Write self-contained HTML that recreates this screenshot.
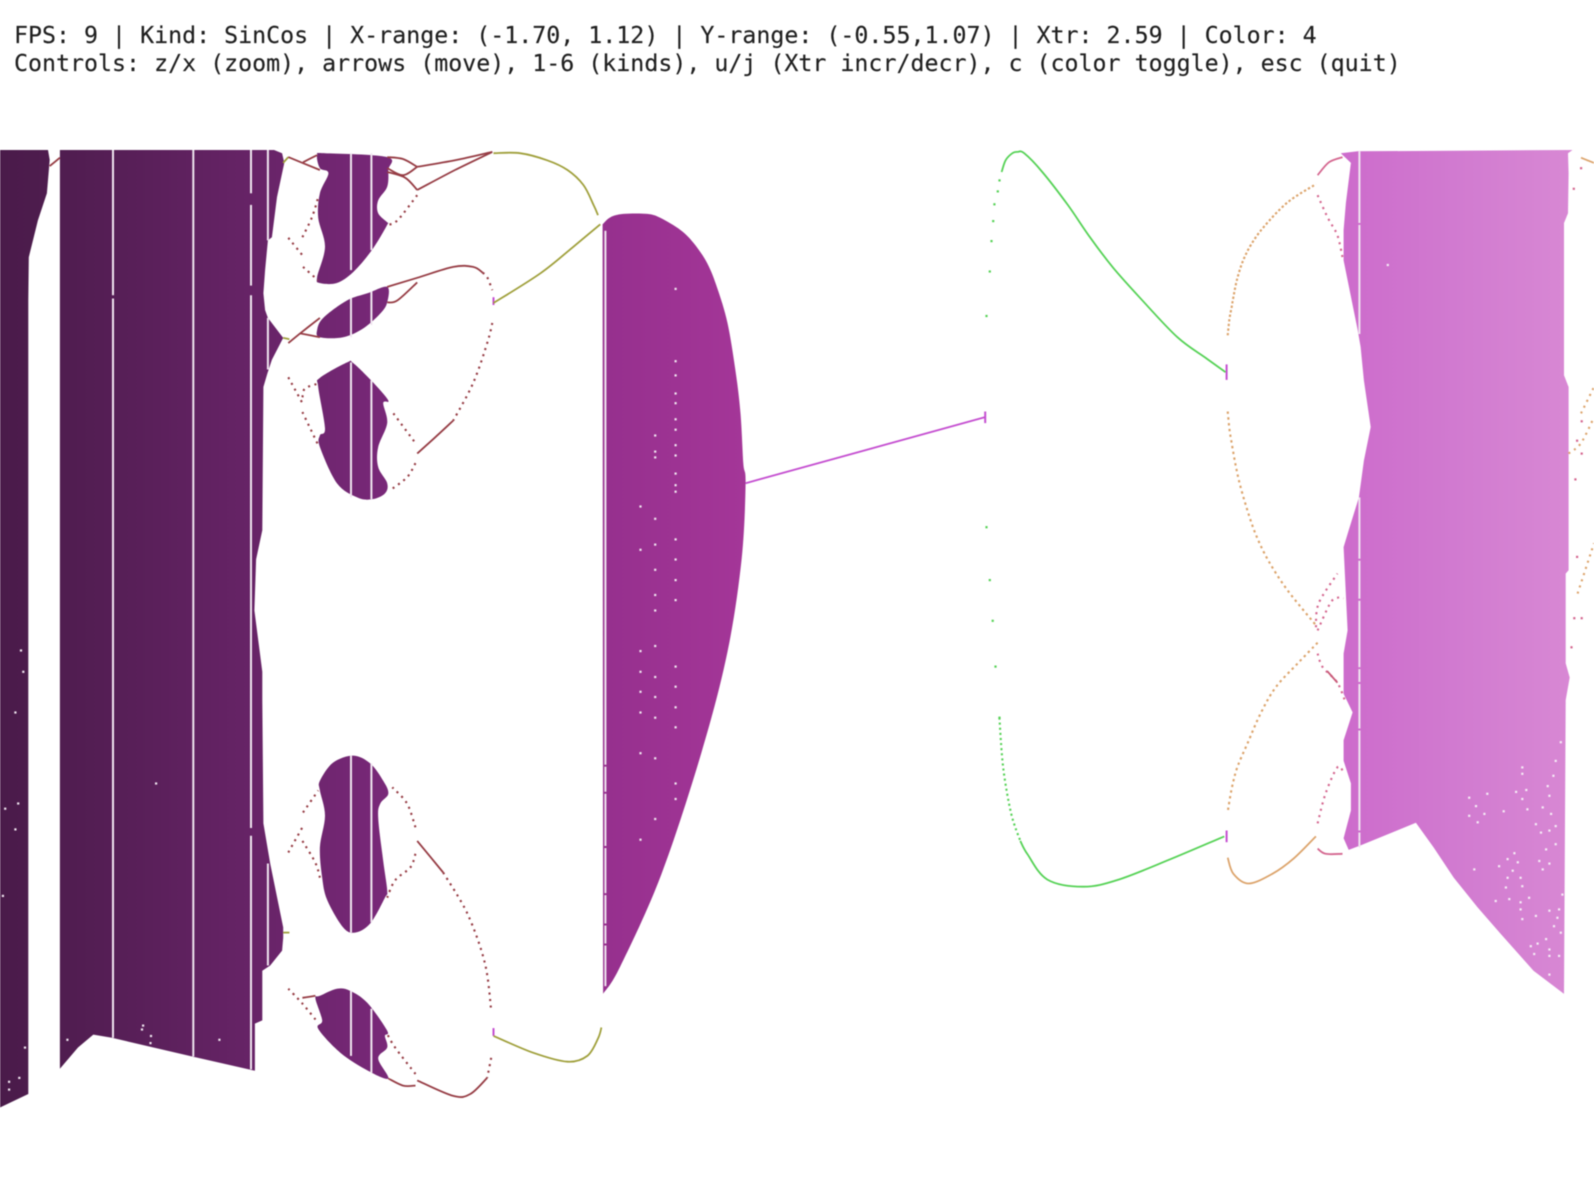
<!DOCTYPE html>
<html lang="en">
<head>
<meta charset="utf-8">
<title>Bifurcation diagram - SinCos</title>
<style>
html,body{margin:0;padding:0;background:#fff;width:1594px;height:1196px;overflow:hidden}
#root{position:relative;width:1594px;height:1196px;background:#fff}
.hud{position:absolute;left:14px;font-family:"DejaVu Sans Mono","Liberation Mono",monospace;font-size:23.27px;line-height:28px;color:#1f1f1f;white-space:pre;filter:blur(.4px);-webkit-text-stroke:.15px #1f1f1f}
svg{position:absolute;left:0;top:0;filter:blur(.4px)}
</style>
</head>
<body>
<div id="root">
<div class="hud" style="top:22px">FPS: 9 | Kind: SinCos | X-range: (-1.70, 1.12) | Y-range: (-0.55,1.07) | Xtr: 2.59 | Color: 4</div>
<div class="hud" style="top:50px">Controls: z/x (zoom), arrows (move), 1-6 (kinds), u/j (Xtr incr/decr), c (color toggle), esc (quit)</div>
<svg id="plot" width="1594" height="1196" viewBox="0 0 1594 1196">
<defs>
<linearGradient id="paramGradient" gradientUnits="userSpaceOnUse" x1="0" y1="0" x2="1594" y2="0">
<stop offset="0" stop-color="#4a1b4a"/>
<stop offset="0.04" stop-color="#501d50"/>
<stop offset="0.165" stop-color="#682468"/>
<stop offset="0.24" stop-color="#782878"/>
<stop offset="0.38" stop-color="#96308e"/>
<stop offset="0.465" stop-color="#a43698"/>
<stop offset="0.845" stop-color="#cd6ccc"/>
<stop offset="0.91" stop-color="#d17ad0"/>
<stop offset="0.985" stop-color="#d888d4"/>
</linearGradient>
</defs>
</svg>
</div>
<script>
// Axis ranges as printed in the status line
const xRange = [-1.70, 1.12];
const yRange = [-0.55, 1.07];

// Filled chaotic bands: [parameter, attractor value]
const bandA = [[-1.70,1.07],[-1.615,1.07],[-1.612,1.055],[-1.617,1.003],[-1.633,0.961],[-1.649,0.904],[-1.650,0.838],[-1.650,-0.392],[-1.70,-0.413]];
const bandB = [[-1.594,1.07],[-1.215,1.07],[-1.201,1.065],[-1.197,1.050],[-1.210,0.997],[-1.219,0.935],[-1.226,0.930],[-1.231,0.884],[-1.234,0.848],[-1.231,0.822],[-1.226,0.810],[-1.199,0.779],[-1.219,0.745],[-1.227,0.724],[-1.234,0.703],[-1.236,0.481],[-1.247,0.436],[-1.250,0.357],[-1.236,0.262],[-1.236,0.218],[-1.234,0.027],[-1.222,-0.035],[-1.199,-0.134],[-1.199,-0.150],[-1.201,-0.170],[-1.222,-0.193],[-1.236,-0.201],[-1.236,-0.278],[-1.249,-0.283],[-1.249,-0.356],[-1.360,-0.334],[-1.502,-0.305],[-1.535,-0.300],[-1.562,-0.320],[-1.594,-0.353]];
const blob1 = [[-1.139,1.062],[-1.125,1.065],[-1.015,1.059],[-1.013,1.039],[-1.015,1.013],[-1.031,0.992],[-1.031,0.972],[-1.015,0.958],[-1.015,0.954],[-1.042,0.915],[-1.075,0.881],[-1.104,0.864],[-1.134,0.864],[-1.139,0.873],[-1.125,0.920],[-1.137,0.965],[-1.134,1.003],[-1.119,1.034],[-1.134,1.042]];
const blob2 = [[-1.015,0.858],[-1.050,0.848],[-1.086,0.837],[-1.128,0.810],[-1.139,0.791],[-1.134,0.780],[-1.093,0.780],[-1.057,0.794],[-1.027,0.817],[-1.015,0.834]];
const blob3 = [[-1.086,0.741],[-1.134,0.717],[-1.137,0.703],[-1.125,0.639],[-1.134,0.628],[-1.134,0.610],[-1.104,0.554],[-1.068,0.532],[-1.042,0.529],[-1.019,0.538],[-1.015,0.554],[-1.031,0.579],[-1.031,0.610],[-1.015,0.647],[-1.022,0.678],[-1.013,0.682],[-1.040,0.710],[-1.075,0.740]];
const blob4 = [[-1.075,0.132],[-1.111,0.121],[-1.134,0.093],[-1.134,0.078],[-1.125,0.039],[-1.134,-0.010],[-1.130,-0.057],[-1.121,-0.092],[-1.093,-0.134],[-1.072,-0.142],[-1.045,-0.128],[-1.019,-0.088],[-1.015,-0.077],[-1.022,-0.031],[-1.031,0.036],[-1.027,0.058],[-1.013,0.073],[-1.022,0.093],[-1.045,0.120]];
const blob5 = [[-1.104,-0.229],[-1.134,-0.240],[-1.142,-0.244],[-1.130,-0.278],[-1.137,-0.291],[-1.098,-0.328],[-1.049,-0.356],[-1.013,-0.368],[-1.031,-0.337],[-1.015,-0.320],[-1.019,-0.302],[-1.015,-0.294],[-1.050,-0.251],[-1.081,-0.232]];
const bandC = [[-0.634,0.955],[-0.620,0.966],[-0.597,0.971],[-0.555,0.971],[-0.532,0.965],[-0.496,0.946],[-0.473,0.926],[-0.449,0.895],[-0.431,0.856],[-0.413,0.802],[-0.399,0.729],[-0.390,0.662],[-0.385,0.585],[-0.381,0.554],[-0.388,0.436],[-0.413,0.293],[-0.459,0.137],[-0.530,-0.052],[-0.603,-0.195],[-0.633,-0.237]];
const bandD = [[0.672,1.065],[0.702,1.068],[1.082,1.07],[1.074,1.065],[1.075,1.034],[1.074,0.972],[1.067,0.957],[1.067,0.721],[1.075,0.703],[1.075,0.419],[1.070,0.414],[1.070,0.275],[1.077,0.253],[1.070,0.218],[1.067,-0.237],[1.013,-0.201],[0.955,-0.144],[0.914,-0.103],[0.872,-0.057],[0.836,-0.010],[0.805,0.028],[0.707,-0.007],[0.686,-0.014],[0.677,0.004],[0.690,0.047],[0.690,0.089],[0.677,0.124],[0.677,0.156],[0.693,0.199],[0.677,0.228],[0.677,0.290],[0.684,0.326],[0.677,0.455],[0.686,0.481],[0.704,0.532],[0.713,0.589],[0.725,0.641],[0.713,0.713],[0.707,0.765],[0.702,0.791],[0.677,0.899],[0.677,0.946],[0.681,0.988],[0.690,1.050]];

// Periodic-window gaps: [parameter, value from, value to]
const gapLines = [
[-1.500,1.07,0.845],[-1.500,0.840,-0.305],
[-1.358,1.07,-0.334],
[-1.256,1.07,1.003],[-1.256,0.985,0.860],[-1.256,0.845,0.020],[-1.256,0.008,-0.354],
[-1.226,1.07,0.930],[-1.226,0.810,0.730],[-1.226,-0.035,-0.193],
[-1.079,1.065,0.884],[-1.043,1.065,0.915],
[-1.079,0.841,0.780],[-1.043,0.851,0.799],
[-1.079,0.741,0.532],[-1.043,0.713,0.529],
[-1.079,0.132,-0.142],[-1.043,0.120,-0.126],
[-1.079,-0.232,-0.333],[-1.043,-0.260,-0.359],
[-0.629,0.945,0.118],[-0.629,0.115,0.076],[-0.629,0.073,-0.008],[-0.629,-0.011,-0.081],[-0.629,-0.084,-0.128],[-0.629,-0.131,-0.159],[-0.629,-0.162,-0.225],
[0.705,1.068,0.957],[0.705,0.954,0.785],
[0.705,0.532,0.437],[0.705,0.434,0.375],[0.705,0.372,0.269],[0.705,0.266,0.246],[0.705,0.243,0.174],[0.705,0.171,0.016],[0.705,0.013,-0.010]
];

// Isolated unvisited points inside the bands
const holesA = [[-1.663,0.295],[-1.659,0.262],[-1.673,0.199],[-1.668,0.058],[-1.691,0.050],[-1.673,0.018],[-1.695,-0.085],[-1.684,-0.373],[-1.684,-0.385],[-1.666,-0.367],[-1.656,-0.320]];
const holesB = [[-1.447,-0.286],[-1.449,-0.292],[-1.433,-0.302],[-1.434,-0.313],[-1.312,-0.308],[-1.581,-0.308],[-1.424,0.089]];
const holesC = [[-0.505,0.855],[-0.505,0.743],[-0.505,0.721],[-0.505,0.693],[-0.505,0.678],[-0.505,0.653],[-0.505,0.637],[-0.505,0.613],[-0.505,0.597],[-0.505,0.569],[-0.505,0.551],[-0.505,0.541],[-0.505,0.467],[-0.505,0.436],[-0.505,0.404],[-0.505,0.373],[-0.505,0.270],[-0.505,0.239],[-0.505,0.207],[-0.505,0.176],[-0.505,0.089],[-0.505,0.065],
[-0.541,0.628],[-0.541,0.603],[-0.541,0.594],[-0.541,0.499],[-0.541,0.459],[-0.541,0.420],[-0.541,0.381],[-0.541,0.357],[-0.541,0.302],[-0.541,0.254],[-0.541,0.223],[-0.541,0.191],[-0.541,0.128],[-0.541,0.034],
[-0.567,0.518],[-0.567,0.451],[-0.567,0.294],[-0.567,0.262],[-0.567,0.231],[-0.567,0.199],[-0.567,0.136],[-0.567,0.002]];
const holesD = [[0.755,0.892],[0.899,0.067],[0.931,0.073],[0.911,0.054],[0.899,0.039],[0.926,0.042],[0.914,0.029],[0.960,0.046],[0.982,0.076],[1.000,0.079],[0.993,0.065],[1.002,0.049],[1.038,0.085],[1.041,0.070],[1.029,0.052],[1.044,0.042],[1.017,0.026],[1.026,0.013],[1.041,0.016],[1.052,0.023],[1.052,-0.005],[1.035,-0.013],[1.023,-0.031],[1.041,-0.035],[1.029,-0.044],[0.908,-0.044],[0.952,-0.039],[0.967,-0.028],[0.979,-0.019],[0.985,-0.033],[0.976,-0.046],[0.967,-0.057],[0.990,-0.057],[0.964,-0.072],[0.993,-0.070],[1.005,-0.088],[0.946,-0.093],[0.970,-0.090],[0.990,-0.095],[0.990,-0.106],[0.993,-0.121],[1.017,-0.116],[1.041,-0.108],[1.058,-0.106],[1.055,-0.119],[1.049,-0.132],[1.035,-0.152],[1.061,-0.142],[1.020,-0.159],[1.008,-0.163],[1.014,-0.175],[1.041,-0.168],[1.041,-0.178],[1.058,-0.178],[1.041,-0.207],[1.061,0.153],[1.052,0.124],[1.048,0.101],[0.993,0.114],[0.993,0.104],[1.064,-0.083]];

// Period-1 branch
const period1Line = [[-0.381,0.554],[0.042,0.656]];
const period1Ticks = [[0.043,0.665,0.647],[0.470,0.738,0.714],[0.470,0.016,-0.002],[-0.827,0.842,0.830],[-0.827,-0.290,-0.302]];

// Period-2 branches
const greenTopDots = [[0.045,0.813],[0.051,0.882],[0.054,0.929],[0.057,0.960],[0.059,0.986],[0.065,1.006],[0.068,1.023]];
const greenTopLine = [[0.072,1.036],[0.079,1.054],[0.091,1.065],[0.100,1.067],[0.112,1.065],[0.144,1.036],[0.189,0.985],[0.229,0.934],[0.270,0.887],[0.320,0.838],[0.383,0.780],[0.433,0.748],[0.468,0.726]];
const greenLowDots = [[0.045,0.486],[0.051,0.404],[0.056,0.341],[0.061,0.270],[0.068,0.191]];
const greenLowLink = [[0.068,0.191],[0.075,0.112],[0.089,0.042],[0.105,0.000]];
const greenLowLine = [[0.105,0.000],[0.118,-0.021],[0.153,-0.060],[0.217,-0.071],[0.279,-0.060],[0.369,-0.029],[0.466,0.007]];
const oliveTop = [[-0.827,1.065],[-0.780,1.065],[-0.732,1.054],[-0.696,1.039],[-0.668,1.016],[-0.650,0.985],[-0.642,0.969]];
const oliveMid = [[-0.827,0.833],[-0.744,0.879],[-0.686,0.920],[-0.638,0.955]];
const oliveBot = [[-0.827,-0.302],[-0.757,-0.328],[-0.696,-0.342],[-0.661,-0.333],[-0.642,-0.306],[-0.636,-0.289]];
const oliveStubs = [[[-1.199,1.050],[-1.190,1.059]],[[-1.199,0.779],[-1.188,0.777]],[[-1.199,-0.142],[-1.188,-0.142]]];

// Period-4 branches, right side
const orange1 = [[0.472,0.783],[0.475,0.808],[0.479,0.827],[0.482,0.842],[0.488,0.868],[0.498,0.896],[0.513,0.923],[0.536,0.951],[0.578,0.989],[0.628,1.017]];
const orange2 = [[0.472,0.665],[0.475,0.638],[0.479,0.616],[0.486,0.582],[0.493,0.554],[0.504,0.520],[0.521,0.476],[0.544,0.434],[0.578,0.388],[0.628,0.334]];
const orange3 = [[0.631,0.307],[0.596,0.275],[0.557,0.238],[0.530,0.197],[0.507,0.151],[0.489,0.114],[0.479,0.081],[0.472,0.045]];
const orange4 = [[0.472,-0.026],[0.482,-0.051],[0.509,-0.066],[0.551,-0.051],[0.589,-0.027],[0.628,0.007]];
const orangeRight1 = [[1.097,1.058],[1.120,1.050]];
const orangeRight2 = [[1.075,0.600],[1.097,0.616],[1.120,0.656]];
const orangeRight3 = [[1.097,0.662],[1.120,0.703]];
const orangeRight4 = [[1.091,0.383],[1.120,0.461]];

// Period-8 branches, right side
const pinkSolid1 = [[0.631,1.031],[0.651,1.051],[0.675,1.059]];
const pinkSolid2 = [[0.631,-0.012],[0.645,-0.020],[0.675,-0.020]];
const pinkDash1 = [[0.631,1.000],[0.649,0.965],[0.666,0.938],[0.675,0.904]];
const pinkDash2 = [[0.628,0.331],[0.633,0.368],[0.666,0.414]];
const pinkDash3 = [[0.631,0.326],[0.654,0.369],[0.668,0.377],[0.677,0.376]];
const pinkDash4 = [[0.631,0.290],[0.640,0.269],[0.666,0.245],[0.681,0.213]];
const pinkDash5 = [[0.631,0.027],[0.645,0.073],[0.666,0.114],[0.677,0.106]];
const pinkHeavy = [[0.648,0.263],[0.666,0.245]];
const pinkDots = [[1.097,1.042],[1.084,1.010],[1.090,0.620],[1.087,0.560],[1.098,0.650],[1.098,0.600],[1.085,0.345],[1.080,0.300],[1.098,0.345],[1.090,0.440]];

// Period-4 branches, left side (solid)
const brownSolid = [
[[-1.612,1.045],[-1.594,1.058]],
[[-0.962,1.044],[-0.895,1.054],[-0.829,1.067]],
[[-0.962,1.008],[-0.895,1.039],[-0.829,1.067]],
[[-0.962,1.044],[-0.987,1.056],[-1.015,1.059]],
[[-0.962,1.044],[-0.987,1.031],[-1.015,1.042]],
[[-0.962,1.008],[-0.983,1.027],[-1.015,1.036]],
[[-1.190,1.059],[-1.134,1.039]],
[[-1.164,1.051],[-1.139,1.062]],
[[-1.015,0.858],[-0.962,0.872],[-0.898,0.889],[-0.863,0.889],[-0.846,0.880]],
[[-0.962,0.865],[-0.997,0.837],[-1.015,0.834]],
[[-1.190,0.771],[-1.169,0.786],[-1.134,0.810]],
[[-1.169,0.786],[-1.134,0.780]],
[[-0.962,0.600],[-0.930,0.625],[-0.898,0.651]],
[[-0.962,0.000],[-0.916,-0.049]],
[[-0.838,-0.367],[-0.868,-0.392],[-0.898,-0.395],[-0.962,-0.371]],
[[-0.965,-0.379],[-0.987,-0.379],[-1.013,-0.368]],
[[-1.165,-0.243],[-1.142,-0.240]]
];

// Period-8 branches, left side (dotted)
const brownDotted = [
[[-0.962,1.000],[-0.997,0.961],[-1.015,0.954]],
[[-1.190,0.934],[-1.165,0.907]],
[[-1.165,0.935],[-1.148,0.966],[-1.137,0.997]],
[[-1.164,0.889],[-1.137,0.868]],
[[-0.846,0.880],[-0.838,0.873],[-0.829,0.853]],
[[-0.829,0.802],[-0.838,0.771],[-0.863,0.709],[-0.898,0.651]],
[[-0.965,0.585],[-0.980,0.563],[-1.010,0.543]],
[[-1.004,0.662],[-0.965,0.616]],
[[-1.190,0.718],[-1.165,0.678]],
[[-1.165,0.664],[-1.137,0.613]],
[[-1.165,0.687],[-1.160,0.701],[-1.134,0.709]],
[[-0.916,-0.049],[-0.873,-0.113],[-0.842,-0.190],[-0.831,-0.263]],
[[-0.831,-0.336],[-0.838,-0.367]],
[[-0.965,-0.361],[-1.001,-0.320],[-1.015,-0.299]],
[[-0.965,0.021],[-0.980,0.058],[-1.006,0.083]],
[[-0.965,-0.020],[-0.974,-0.041],[-1.001,-0.061],[-1.015,-0.088]],
[[-1.190,-0.018],[-1.165,0.021]],
[[-1.164,0.044],[-1.137,0.078]],
[[-1.165,0.000],[-1.142,-0.034],[-1.134,-0.057]],
[[-1.190,-0.229],[-1.165,-0.252],[-1.137,-0.282]]
];

const plotWidth = 1594, plotTop = 150, plotHeight = 1046;
const svg = document.getElementById('plot');
const NS = 'http://www.w3.org/2000/svg';

function sx(v){ return (v - xRange[0]) / (xRange[1] - xRange[0]) * plotWidth; }
function sy(v){ return plotTop + (yRange[1] - v) / (yRange[1] - yRange[0]) * plotHeight; }
function pathOf(pts, close){
  return pts.map(function(p,i){ return (i ? 'L' : 'M') + sx(p[0]).toFixed(1) + ' ' + sy(p[1]).toFixed(1); }).join('') + (close ? 'Z' : '');
}
// Catmull-Rom spline through the mapped data points
function splineOf(pts, closed){
  const q = pts.map(function(p){ return [sx(p[0]), sy(p[1])]; });
  const n = q.length;
  const at = function(i){ return closed ? q[(i + n) % n] : q[Math.max(0, Math.min(n - 1, i))]; };
  let d = 'M' + q[0][0].toFixed(1) + ' ' + q[0][1].toFixed(1);
  const last = closed ? n : n - 1;
  for (let i = 0; i < last; i++){
    const p0 = at(i - 1), p1 = at(i), p2 = at(i + 1), p3 = at(i + 2);
    const c1x = p1[0] + (p2[0] - p0[0]) / 6, c1y = p1[1] + (p2[1] - p0[1]) / 6;
    const c2x = p2[0] - (p3[0] - p1[0]) / 6, c2y = p2[1] - (p3[1] - p1[1]) / 6;
    d += 'C' + c1x.toFixed(1) + ' ' + c1y.toFixed(1) + ' ' + c2x.toFixed(1) + ' ' + c2y.toFixed(1) + ' ' + p2[0].toFixed(1) + ' ' + p2[1].toFixed(1);
  }
  return d;
}
function drawRegion(d, name){
  const el = document.createElementNS(NS, 'path');
  el.setAttribute('d', d);
  el.setAttribute('fill', 'url(#paramGradient)');
  
  
  svg.appendChild(el);
}
function drawLine(pts, color, dash, name){
  const el = document.createElementNS(NS, 'path');
  el.setAttribute('d', splineOf(pts, false));
  el.setAttribute('fill', 'none');
  el.setAttribute('stroke', color);
  el.setAttribute('stroke-width', dash ? '2.1' : '1.8');
  if (dash) el.setAttribute('stroke-dasharray', dash);
  
  
  svg.appendChild(el);
}
function drawDots(pts, color, name){
  pts.forEach(function(p){
    const el = document.createElementNS(NS, 'rect');
    el.setAttribute('x', (sx(p[0]) - 1).toFixed(1));
    el.setAttribute('y', (sy(p[1]) - 1).toFixed(1));
    el.setAttribute('width', '2.2');
    el.setAttribute('height', '2.2');
    el.setAttribute('fill', color);
    
    
    svg.appendChild(el);
  });
}
function drawVerticals(rows, color, width, name){
  rows.forEach(function(r){
    const el = document.createElementNS(NS, 'line');
    el.setAttribute('x1', sx(r[0]).toFixed(1));
    el.setAttribute('x2', sx(r[0]).toFixed(1));
    el.setAttribute('y1', sy(r[1]).toFixed(1));
    el.setAttribute('y2', sy(r[2]).toFixed(1));
    el.setAttribute('stroke', color);
    el.setAttribute('stroke-width', width);
    
    
    svg.appendChild(el);
  });
}

const OLIVE = '#a0a03c', BROWN = '#963c44', GREEN = '#56d256', ORANGE = '#dca46c', PINK = '#d4668f', MAGENTA = '#c44ed0';
const DOTTED = '2.1 4.4';

drawRegion(pathOf(bandA, true), 'chaos-band-a');
drawRegion(pathOf(bandB, true), 'chaos-band-b');
drawRegion(splineOf(blob1, true) + 'Z', 'window-blob-1');
drawRegion(splineOf(blob2, true) + 'Z', 'window-blob-2');
drawRegion(splineOf(blob3, true) + 'Z', 'window-blob-3');
drawRegion(splineOf(blob4, true) + 'Z', 'window-blob-4');
drawRegion(splineOf(blob5, true) + 'Z', 'window-blob-5');
drawRegion(splineOf(bandC, false) + 'Z', 'chaos-band-c');
drawRegion(pathOf(bandD, true), 'chaos-band-d');

drawVerticals(gapLines, '#f0e6f0', '2', 'periodic-window-gap');
drawDots(holesA, '#f0e6f0', 'band-a-hole');
drawDots(holesB, '#f0e6f0', 'band-b-hole');
drawDots(holesC, '#f0e6f0', 'band-c-hole');
drawDots(holesD, '#f6ecf6', 'band-d-hole');

drawLine(period1Line, MAGENTA, null, 'period-1-branch');
drawVerticals(period1Ticks, MAGENTA, '2', 'bifurcation-tick');

drawDots(greenTopDots, GREEN, 'period-2-upper-dot');
drawLine(greenTopLine, GREEN, null, 'period-2-upper-branch');
drawDots(greenLowDots, GREEN, 'period-2-lower-dot');
drawLine(greenLowLink, GREEN, '2.1 3', 'period-2-lower-link');
drawLine(greenLowLine, GREEN, null, 'period-2-lower-branch');
drawLine(oliveTop, OLIVE, null, 'olive-top-branch');
drawLine(oliveMid, OLIVE, null, 'olive-middle-branch');
drawLine(oliveBot, OLIVE, null, 'olive-bottom-branch');
oliveStubs.forEach(function(pts){ drawLine(pts, OLIVE, null, 'olive-stub'); });

drawLine(orange1, ORANGE, '2.4 2.2', 'orange-branch-1');
drawLine(orange2, ORANGE, '2.4 3.4', 'orange-branch-2');
drawLine(orange3, ORANGE, '2.4 3.4', 'orange-branch-3');
drawLine(orange4, ORANGE, null, 'orange-branch-4');
drawLine(orangeRight1, ORANGE, null, 'orange-right-branch-1');
drawLine(orangeRight2, ORANGE, DOTTED, 'orange-right-branch-2');
drawLine(orangeRight3, ORANGE, DOTTED, 'orange-right-branch-3');
drawLine(orangeRight4, ORANGE, DOTTED, 'orange-right-branch-4');

drawLine(pinkSolid1, PINK, null, 'pink-upper-branch');
drawLine(pinkSolid2, PINK, null, 'pink-lower-branch');
drawLine(pinkDash1, PINK, DOTTED, 'pink-dotted-branch-1');
drawLine(pinkDash2, PINK, DOTTED, 'pink-dotted-branch-2');
drawLine(pinkDash3, PINK, DOTTED, 'pink-dotted-branch-3');
drawLine(pinkDash4, PINK, DOTTED, 'pink-dotted-branch-4');
drawLine(pinkDash5, PINK, DOTTED, 'pink-dotted-branch-5');
drawLine(pinkHeavy, '#c85a78', null, 'pink-heavy-branch');
drawDots(pinkDots, PINK, 'pink-scatter-dot');

brownSolid.forEach(function(pts){ drawLine(pts, BROWN, null, 'brown-branch'); });
brownDotted.forEach(function(pts){ drawLine(pts, BROWN, DOTTED, 'brown-dotted-branch'); });
</script>
</body>
</html>
